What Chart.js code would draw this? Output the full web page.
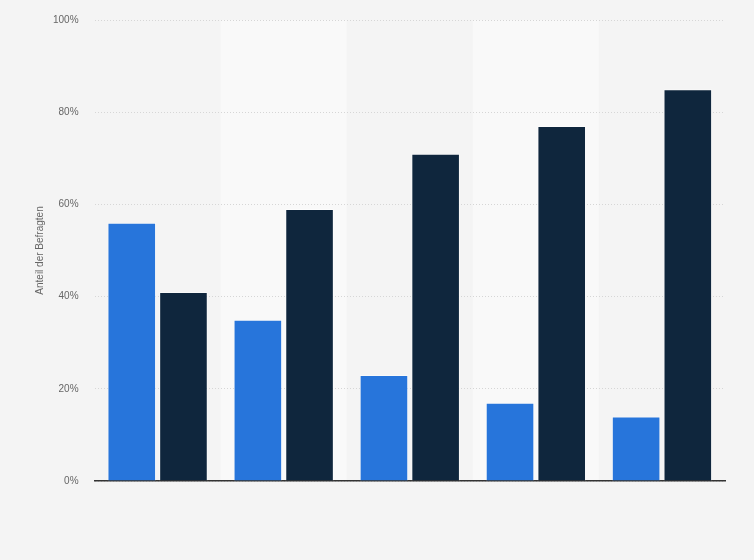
<!DOCTYPE html>
<html>
<head>
<meta charset="utf-8">
<script src="https://cdn.jsdelivr.net/npm/chart.js@4/dist/chart.umd.min.js"></script>
<style>
  html, body { margin: 0; padding: 0; background: #f4f4f4; overflow: hidden; }
  #wrap { width: 754px; height: 562px; margin-top: -2px; }
</style>
</head>
<body>
<div id="wrap"><canvas id="chart"></canvas></div>
<script>
// values (percent)
const categories = ["1", "2", "3", "4", "5"];
const seriesA = [56, 35, 23, 17, 14];
const seriesB = [41, 59, 71, 77, 85];
const yTicks = [0, 20, 40, 60, 80, 100];

// lighter band behind every second category
const bandPlugin = {
  id: "bands",
  beforeDraw(chart) {
    const { ctx, chartArea, scales } = chart;
    const x = scales.x;
    const w = (chartArea.right - chartArea.left) / categories.length;
    ctx.save();
    ctx.fillStyle = "#f9f9f9";
    categories.forEach((c, i) => {
      if (i % 2 === 1) {
        const cx = x.getPixelForValue(i);
        ctx.fillRect(cx - w / 2, chartArea.top, w, chartArea.bottom - chartArea.top);
      }
    });
    ctx.restore();
  },
};

const ctx = document.getElementById("chart").getContext("2d");
new Chart(ctx, {
  type: "bar",
  data: {
    labels: categories,
    datasets: [
      {
        data: seriesA,
        backgroundColor: "#2775db",
        borderColor: "rgba(255,255,255,0.45)",
        borderWidth: 1,
      },
      {
        data: seriesB,
        backgroundColor: "#0f263d",
        borderColor: "rgba(255,255,255,0.45)",
        borderWidth: 1,
      },
    ],
  },
  options: {
    responsive: true,
    maintainAspectRatio: false,
    animation: false,
    datasets: { bar: { categoryPercentage: 0.82, barPercentage: 0.94 } },
    layout: { padding: { top: 4, right: 29, bottom: 79, left: 0 } },
    plugins: { legend: { display: false }, tooltip: { enabled: false } },
    scales: {
      x: {
        ticks: { display: false },
        grid: { display: false, drawTicks: false },
        border: { color: "#333333", width: 1.5 },
      },
      y: {
        min: 0,
        max: 100,
        afterBuildTicks(axis) {
          axis.ticks = yTicks.map((v) => ({ value: v }));
        },
        ticks: {
          color: "#666666",
          font: { family: "Arial, 'Liberation Sans', sans-serif", size: 10 },
          padding: 16,
          callback: (v) => v + "%",
        },
        grid: { color: "#d6d6d6", drawTicks: false },
        border: { display: false, dash: [1, 2] },
        title: {
          display: true,
          text: "Anteil der Befragten",
          color: "#666666",
          font: { family: "Arial, 'Liberation Sans', sans-serif", size: 10 },
          padding: { top: 34, bottom: -9 },
        },
      },
    },
  },
  plugins: [bandPlugin],
});
</script>
</body>
</html>
